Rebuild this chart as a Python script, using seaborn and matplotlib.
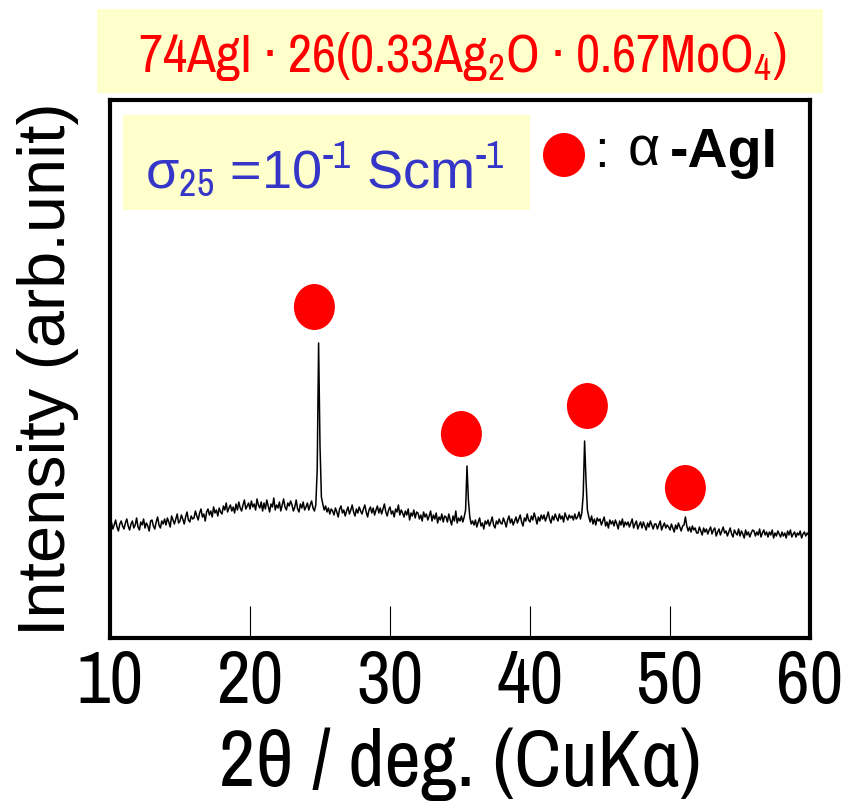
import numpy as np
import pandas as pd
import matplotlib
matplotlib.use("Agg")
import matplotlib.pyplot as plt
import seaborn as sns
from matplotlib import font_manager
from matplotlib.path import Path
from matplotlib.transforms import Affine2D
from matplotlib.patches import Rectangle

# XRD scan: 2-theta grid (deg) and measured intensity (arb. units), 0.1 deg step
scan_start, scan_stop, scan_step = 10.0, 60.0, 0.1
intensity = [
    110, 116, 109, 113, 118, 111, 107, 114, 117, 112,   # 10
    109, 115, 119, 112, 108, 114, 117, 110, 113, 120,   # 11
    111, 108, 116, 113, 119, 110, 115, 112, 107, 117,   # 12
    118, 112, 109, 116, 121, 113, 110, 117, 114, 119,   # 13
    113, 120, 116, 111, 122, 118, 114, 119, 124, 115,   # 14
    117, 123, 119, 114, 121, 126, 118, 116, 122, 119,   # 15
    120, 127, 122, 118, 125, 129, 121, 124, 117, 126,   # 16
    129, 123, 127, 121, 131, 125, 128, 122, 130, 126,   # 17
    124, 132, 128, 135, 126, 130, 133, 127, 131, 125,   # 18
    134, 128, 136, 130, 127, 133, 138, 129, 132, 135,   # 19
    129, 137, 131, 134, 128, 139, 133, 130, 136, 127,   # 20
    135, 129, 138, 132, 126, 134, 131, 140, 128, 133,   # 21
    130, 136, 127, 133, 139, 131, 128, 135, 132, 137,   # 22
    133, 127, 131, 138, 129, 126, 134, 130, 136, 128,   # 23
    131, 135, 128, 133, 137, 130, 127, 133, 168, 295,   # 24
    192, 141, 134, 128, 132, 126, 130, 124, 129, 127,   # 25
    123, 130, 126, 121, 129, 132, 125, 128, 122, 127,   # 26
    131, 124, 128, 133, 126, 122, 129, 125, 131, 127,   # 27
    124, 129, 133, 126, 121, 128, 131, 125, 130, 123,   # 28
    128, 132, 125, 130, 124, 129, 134, 126, 122, 128,   # 29
    131, 124, 127, 121, 129, 126, 133, 123, 128, 125,   # 30
    121, 127, 123, 129, 118, 125, 122, 128, 120, 126,   # 31
    125, 119, 123, 117, 126, 121, 124, 118, 122, 127,   # 32
    117, 123, 119, 125, 115, 121, 118, 124, 116, 122,   # 33
    121, 116, 124, 118, 113, 122, 117, 127, 115, 120,   # 34
    117, 122, 116, 121, 128, 172, 138, 121, 114, 117,   # 35
    113, 118, 111, 116, 120, 112, 115, 109, 117, 114,   # 36
    118, 112, 116, 121, 113, 110, 117, 114, 119, 115,   # 37
    114, 120, 116, 111, 118, 122, 115, 119, 113, 117,   # 38
    121, 115, 119, 123, 116, 112, 120, 117, 124, 118,   # 39
    116, 122, 118, 125, 120, 114, 121, 117, 123, 119,   # 40
    123, 117, 121, 126, 119, 115, 122, 118, 124, 120,   # 41
    117, 124, 119, 122, 116, 125, 121, 118, 123, 120,   # 42
    122, 118, 124, 119, 121, 126, 119, 125, 143, 197,   # 43
    158, 128, 121, 116, 122, 114, 119, 113, 120, 117,   # 44
    119, 113, 117, 121, 112, 116, 110, 118, 114, 117,   # 45
    112, 118, 114, 109, 117, 113, 119, 111, 116, 113,   # 46
    116, 111, 115, 119, 110, 114, 117, 109, 113, 116,   # 47
    110, 116, 112, 108, 115, 111, 117, 113, 109, 114,   # 48
    114, 109, 113, 117, 108, 112, 115, 110, 113, 111,   # 49
    108, 114, 110, 106, 113, 109, 115, 111, 107, 112,   # 50
    113, 121, 112, 107, 111, 106, 112, 108, 110, 105,   # 51
    105, 111, 107, 103, 110, 106, 109, 104, 108, 111,   # 52
    104, 108, 110, 102, 106, 109, 103, 107, 111, 105,   # 53
    107, 102, 106, 110, 104, 101, 108, 105, 103, 109,   # 54
    102, 107, 104, 100, 108, 103, 106, 101, 105, 108,   # 55
    107, 102, 106, 103, 109, 101, 105, 108, 103, 106,   # 56
    101, 106, 103, 108, 100, 105, 102, 107, 104, 101,   # 57
    106, 102, 105, 100, 107, 103, 108, 101, 104, 106,   # 58
    101, 105, 103, 107, 100, 104, 106, 102, 105, 103,   # 59
    104,                                                # 60
]
two_theta = np.round(np.arange(scan_start, scan_stop + scan_step / 2, scan_step), 1)

# alpha-AgI reflections: marker positions above the peaks
agi_2theta = [24.6, 35.1, 44.1, 51.1]
agi_marker_y = [331, 204, 232, 150]

x_ticks = [10, 20, 30, 40, 50, 60]
composition = "74AgI · 26(0.33Ag$_2$O · 0.67MoO$_4$)"
conductivity = r"σ$_{25}$ =10$^{\text{-}1}$ Scm$^{\text{-}1}$"

sns.set_theme(style="white")

available = {f.name for f in font_manager.fontManager.ttflist}
narrow = next(n for n in ["Archivo Narrow", "Roboto Condensed", "DejaVu Sans"]
              if n in available)
narrow_family = [narrow, "Roboto Condensed", "DejaVu Sans"]
plt.rcParams["font.family"] = ["Liberation Sans", "DejaVu Sans"]
plt.rcParams["text.color"] = "black"
plt.rcParams["mathtext.fontset"] = "custom"
plt.rcParams["mathtext.rm"] = narrow
plt.rcParams["mathtext.it"] = narrow

W, H = 846, 809
fig = plt.figure(figsize=(W / 100, H / 100), dpi=100)


def fx(x):
    return x / W


def fy(y):
    return 1 - y / H


ax = fig.add_axes([fx(110), fy(638), 700 / W, 538 / H])

df = pd.DataFrame({"two_theta": two_theta, "intensity": intensity})
sns.lineplot(data=df, x="two_theta", y="intensity", ax=ax, color="black",
             linewidth=1.1, zorder=2)

ellipse = Affine2D().scale(41 / 46, 1).transform_path(Path.unit_circle())
ax.scatter(agi_2theta, agi_marker_y, marker=ellipse, s=33.1 ** 2,
           color="#FF0000", edgecolors="none", zorder=3)

ax.set_xlim(10, 60)
ax.set_ylim(0, 538)
ax.set_xticks(x_ticks)
ax.set_xticklabels([str(t) for t in x_ticks], fontfamily=narrow_family, fontsize=53,
                   color="black")
ax.set_yticks([])
ax.tick_params(axis="x", direction="in", length=23, width=0.8, color="black",
               pad=8, bottom=True)
for s in ax.spines.values():
    s.set_visible(True)
    s.set_color("black")
    s.set_linewidth(3)

ax.set_xlabel("2θ / deg. (CuKα)", fontfamily=narrow_family, fontsize=57, labelpad=8,
              color="black")
ax.set_ylabel("Intensity (arb.unit)", fontfamily="Liberation Sans", fontsize=48,
              labelpad=22, color="black")

# composition banner
fig.patches.append(Rectangle((fx(97), fy(93)), (823 - 97) / W, 84 / H,
                             transform=fig.transFigure, facecolor="#FFFFCC",
                             edgecolor="none", zorder=0))
fig.text(fx(462), fy(72), composition, color="#FF0000", fontfamily=narrow_family,
         fontsize=38, ha="center", va="baseline")

# conductivity box
fig.patches.append(Rectangle((fx(123), fy(210)), (530 - 123) / W, 95 / H,
                             transform=fig.transFigure, facecolor="#FFFFCC",
                             edgecolor="none", zorder=1))
fig.text(fx(145), fy(188), conductivity, color="#3535C8", fontsize=39,
         ha="left", va="baseline", zorder=3)

# legend for alpha-AgI
ax.scatter([(564 - 110) / 700], [(638 - 155) / 538], transform=ax.transAxes,
           marker=Affine2D().scale(42 / 44, 1).transform_path(Path.unit_circle()),
           s=31.7 ** 2, color="#FF0000", edgecolors="none", zorder=4, clip_on=False)
fig.text(fx(594), fy(167), ":", color="black", fontsize=38, ha="left", va="baseline")
fig.text(fx(628), fy(166), "α", color="black", fontsize=40, ha="left", va="baseline")
fig.text(fx(670), fy(167), "-AgI", color="black", fontsize=40, fontweight="bold",
         ha="left", va="baseline")

fig.savefig("out.png", dpi=100, facecolor="white")
